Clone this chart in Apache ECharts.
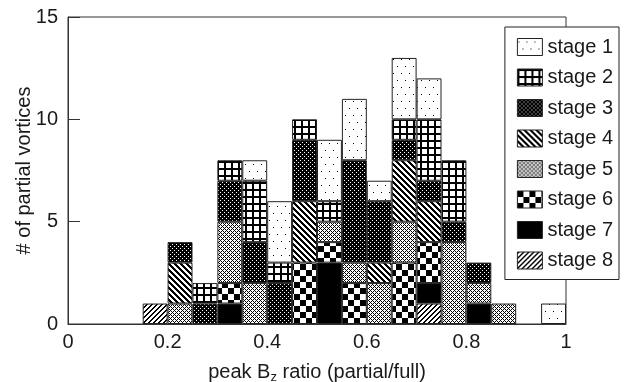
<!DOCTYPE html>
<html>
<head>
<meta charset="utf-8">
<script src="https://cdn.jsdelivr.net/npm/echarts@6/dist/echarts.min.js"></script>
<style>
html, body { margin: 0; padding: 0; background: #fff; }
#histChart { width: 624px; height: 382px; }
</style>
</head>
<body>
<div id="histChart"></div>
<script>
// bins of width 0.05, from 0 to 1
var binLabels = ['0-0.05', '0.05-0.1', '0.1-0.15', '0.15-0.2', '0.2-0.25',
    '0.25-0.3', '0.3-0.35', '0.35-0.4', '0.4-0.45', '0.45-0.5',
    '0.5-0.55', '0.55-0.6', '0.6-0.65', '0.65-0.7', '0.7-0.75',
    '0.75-0.8', '0.8-0.85', '0.85-0.9', '0.9-0.95', '0.95-1'];

var stageNames = ['stage 1', 'stage 2', 'stage 3', 'stage 4', 'stage 5', 'stage 6', 'stage 7', 'stage 8'];

// counts per bin for each stage
var stage1 = [0, 0, 0, 0, 0, 0, 0, 1, 3, 0, 3, 3, 1, 3, 2, 0, 0, 0, 0, 1];
var stage2 = [0, 0, 0, 0, 0, 1, 1, 3, 1, 1, 1, 0, 0, 1, 3, 3, 0, 0, 0, 0];
var stage3 = [0, 0, 0, 0, 1, 1, 2, 2, 2, 3, 0, 5, 3, 1, 1, 1, 1, 0, 0, 0];
var stage4 = [0, 0, 0, 0, 2, 0, 0, 0, 0, 3, 0, 0, 1, 3, 2, 0, 0, 0, 0, 0];
var stage5 = [0, 0, 0, 0, 1, 0, 3, 2, 0, 0, 1, 1, 2, 2, 0, 4, 1, 1, 0, 0];
var stage6 = [0, 0, 0, 0, 0, 0, 1, 0, 0, 3, 1, 2, 0, 3, 2, 0, 0, 0, 0, 0];
var stage7 = [0, 0, 0, 0, 0, 0, 1, 0, 0, 0, 3, 0, 0, 0, 1, 0, 1, 0, 0, 0];
var stage8 = [0, 0, 0, 1, 0, 0, 0, 0, 0, 0, 0, 0, 0, 0, 1, 0, 0, 0, 0, 0];

var xTicks = [0, 0.2, 0.4, 0.6, 0.8, 1];
var yTicks = [0, 5, 10, 15];

var font = 'Liberation Sans';
var ink = '#1a1a1a';

// small black/white tile -> pattern fill
var makePattern = function (w, h, isBlack) {
    var c = document.createElement('canvas');
    c.width = w;
    c.height = h;
    var ctx = c.getContext('2d');
    ctx.fillStyle = '#fff';
    ctx.fillRect(0, 0, w, h);
    ctx.fillStyle = '#000';
    for (var y = 0; y < h; y++) {
        for (var x = 0; x < w; x++) {
            if (isBlack(x, y)) ctx.fillRect(x, y, 1, 1);
        }
    }
    return { image: c, repeat: 'repeat' };
};

var fills = [
    // sparse dots
    makePattern(8, 14, function (x, y) { return (x === 1 && y === 3) || (x === 5 && y === 10); }),
    // grid
    makePattern(7, 7, function (x, y) { return x < 2 || y < 2; }),
    // black with white dots
    makePattern(4, 4, function (x, y) { return !((x === 0 && y === 0) || (x === 2 && y === 2)); }),
    // "\" stripes
    makePattern(6, 6, function (x, y) { return ((x - y) % 6 + 6) % 6 < 3; }),
    // fine crosshatch
    makePattern(4, 4, function (x, y) { return (x + y) % 4 === 0 || (x - y + 4) % 4 === 0; }),
    // checkerboard
    makePattern(12, 12, function (x, y) { return (Math.floor(x / 6) + Math.floor(y / 6)) % 2 === 0; }),
    // solid
    '#000',
    // "/" stripes
    makePattern(5, 5, function (x, y) { return (x + y) % 5 < 2; })
];

var myHistChart = function () {
    var stages = [stage1, stage2, stage3, stage4, stage5, stage6, stage7, stage8];
    var series = [];
    // stage 8 sits at the bottom of each stack
    for (var i = stages.length - 1; i >= 0; i--) {
        series.push({
            name: stageNames[i],
            type: 'bar',
            stack: 'all',
            xAxisIndex: 1,
            barCategoryGap: '0%',
            data: stages[i].map(function (v) { return v === 0 ? '-' : v; }),
            itemStyle: {
                color: fills[i],
                borderColor: '#222',
                borderWidth: 1
            },
            emphasis: { disabled: true }
        });
    }

    var chart = echarts.init(document.getElementById('histChart'));
    var option = {
        animation: false,
        textStyle: { fontFamily: font },
        grid: {
            left: 68, right: 58, top: 17, bottom: 58,
            outerBoundsMode: 'none',
            show: true,
            borderColor: '#333',
            borderWidth: 1
        },
        legend: {
            orient: 'vertical',
            right: 5,
            top: 27,
            data: stageNames,
            icon: 'rect',
            itemWidth: 25,
            itemHeight: 17,
            itemGap: 10.5,
            padding: [10, 6, 9, 12],
            backgroundColor: '#fff',
            borderColor: '#222',
            borderWidth: 1,
            selectedMode: false,
            itemStyle: { borderColor: '#222', borderWidth: 1 },
            textStyle: { fontSize: 20, color: ink, fontFamily: font }
        },
        xAxis: [{
            type: 'value',
            min: xTicks[0],
            max: xTicks[xTicks.length - 1],
            interval: xTicks[1] - xTicks[0],
            axisLine: { show: true, lineStyle: { color: '#333' } },
            axisTick: { show: false },
            splitLine: { show: false },
            axisLabel: { fontSize: 20, color: ink, margin: 8, fontFamily: font },
            name: 'peak B{sub|z} ratio (partial/full)',
            nameLocation: 'middle',
            nameGap: 36,
            nameTextStyle: {
                fontSize: 20, color: ink, fontFamily: font, lineHeight: 24,
                rich: {
                    sub: { fontSize: 13, color: ink, fontFamily: font, verticalAlign: 'bottom', lineHeight: 24, padding: [8, 0, 0, 0] }
                }
            }
        }, {
            type: 'category',
            data: binLabels,
            show: false,
            boundaryGap: true
        }],
        yAxis: {
            type: 'value',
            min: yTicks[0],
            max: yTicks[yTicks.length - 1],
            interval: yTicks[1] - yTicks[0],
            axisLine: { show: true, lineStyle: { color: '#333' } },
            axisTick: { show: true, inside: true, length: 12, lineStyle: { color: '#333' } },
            splitLine: { show: false },
            axisLabel: { fontSize: 20, color: ink, margin: 10, fontFamily: font },
            name: '# of partial vortices',
            nameLocation: 'middle',
            nameGap: 34,
            nameMoveOverlap: false,
            nameTextStyle: { fontSize: 20, color: ink, fontFamily: font }
        },
        series: series
    };
    chart.setOption(option);
};

myHistChart();
</script>
</body>
</html>
